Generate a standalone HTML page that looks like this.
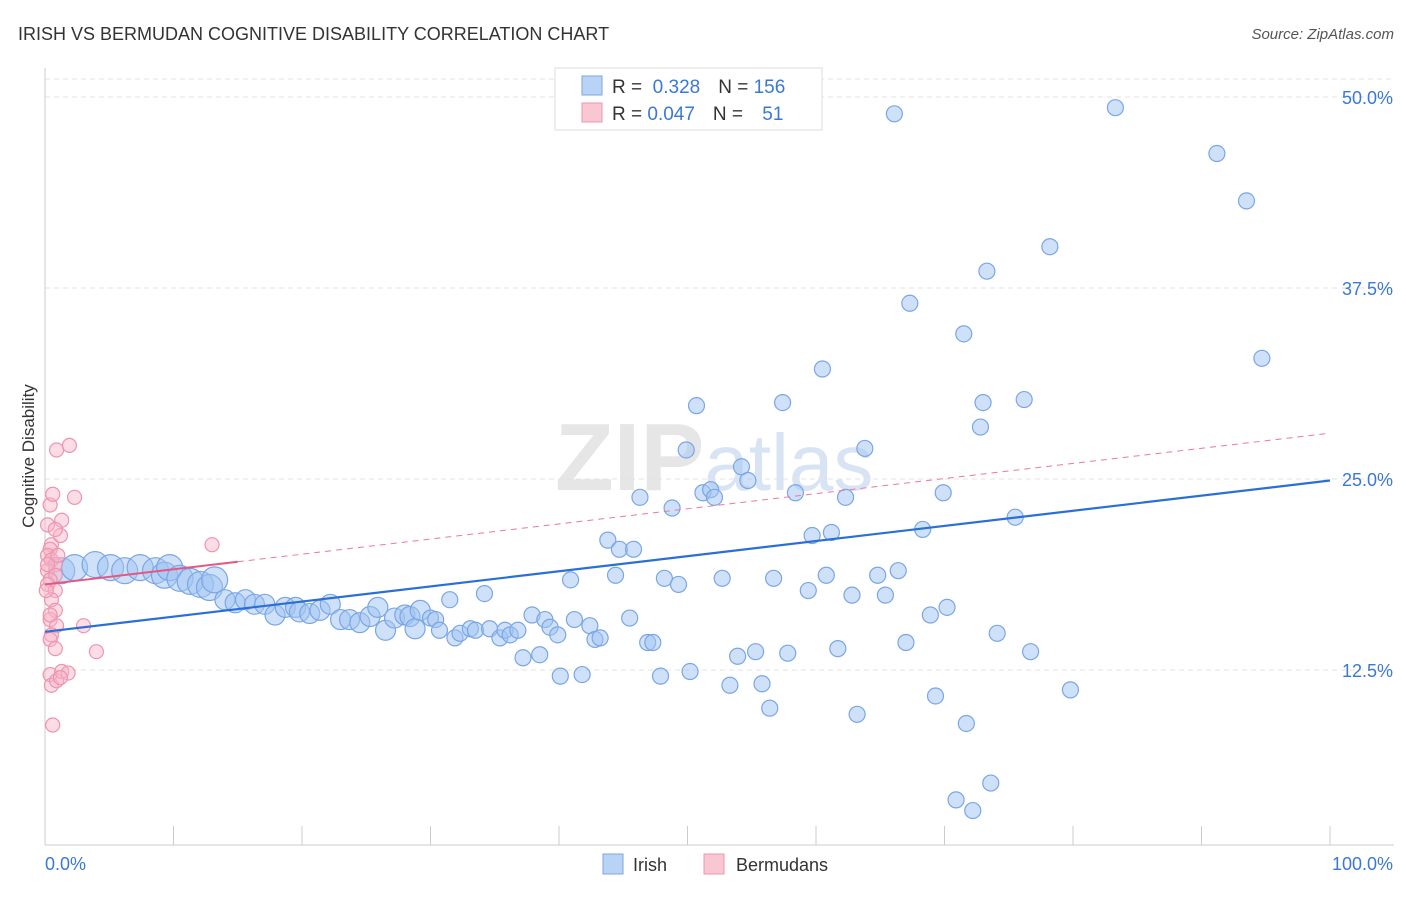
<!DOCTYPE html>
<html><head><meta charset="utf-8">
<style>
body{margin:0;background:#fff;font-family:"Liberation Sans",sans-serif;}
svg text{font-family:"Liberation Sans",sans-serif;}
</style></head>
<body>
<svg id="chart" width="1406" height="892" xmlns="http://www.w3.org/2000/svg">
<text x="18" y="40" font-size="18" fill="#333">IRISH VS BERMUDAN COGNITIVE DISABILITY CORRELATION CHART</text>
<text x="1394" y="39" font-size="15" fill="#555" font-style="italic" text-anchor="end">Source: ZipAtlas.com</text>
<text x="555" y="490" font-size="96" fill="#e6e6e6" font-family="Liberation Serif" font-weight="bold">ZIP<tspan fill="#d8e4f4" font-family="Liberation Sans" font-weight="normal" font-size="80">atlas</tspan></text>
<g id="grid"></g>
<g id="axes"></g>
<g id="marks"></g>
<text transform="translate(34,456) rotate(-90)" font-size="17" fill="#333" text-anchor="middle">Cognitive Disability</text>
<g>
<rect x="555" y="68" width="267" height="62" fill="#fff" stroke="#ddd"/>
<rect x="582" y="76" width="20" height="19" fill="#b9d3f5" stroke="#7aa6e6"/>
<rect x="582" y="103" width="20" height="19" fill="#f9c6d4" stroke="#ee94ae"/>
<text x="612" y="93" font-size="19" fill="#333">R = <tspan fill="#3a78d6">&#160;0.328</tspan><tspan dx="18" fill="#333">N = </tspan><tspan fill="#3a78d6">156</tspan></text>
<text x="612" y="120" font-size="19" fill="#333">R = <tspan fill="#3a78d6">0.047</tspan><tspan dx="18" fill="#333">N = </tspan><tspan fill="#3a78d6" dx="14">51</tspan></text>
</g>
<g>
<rect x="603" y="854" width="20" height="20" fill="#b9d3f5" stroke="#7aa6e6"/>
<text x="633" y="871" font-size="18" fill="#333">Irish</text>
<rect x="704" y="854" width="20" height="20" fill="#f9c6d4" stroke="#ee94ae"/>
<text x="736" y="871" font-size="18" fill="#333">Bermudans</text>
</g>
</svg>
<script>
const irishX=[1.3,2.3,3.9,5.1,6.2,7.4,8.6,9.3,9.7,10.5,11.3,12.1,12.8,13.2,14.0,14.8,15.6,16.3,17.1,17.9,18.7,19.5,19.8,20.6,21.4,22.2,23.0,23.7,24.5,25.3,25.9,26.5,27.2,28.0,28.4,28.8,29.2,30.0,30.4,30.7,31.5,31.9,32.3,33.1,33.5,34.2,34.6,35.4,35.8,36.2,36.8,37.2,37.9,38.5,38.9,39.3,39.9,40.1,40.9,41.2,41.8,42.4,42.8,43.2,43.8,44.4,44.7,45.5,45.8,46.3,46.9,47.3,47.9,48.2,48.8,49.3,49.9,50.2,50.7,51.2,51.8,52.1,52.7,53.3,53.9,54.2,54.7,55.3,55.8,56.4,56.7,57.4,57.8,58.4,59.4,59.7,60.5,60.8,61.2,61.7,62.3,62.8,63.2,63.8,64.8,65.4,66.1,66.4,67.0,67.3,68.3,68.9,69.3,69.9,70.2,70.9,71.5,71.7,72.2,72.8,73.0,73.3,73.6,74.1,75.5,76.2,76.7,78.2,79.8,83.3,91.2,93.5,94.7];
const irishY=[19.0,19.2,19.4,19.2,19.0,19.2,19.0,18.7,19.2,18.5,18.3,18.1,17.9,18.4,17.1,16.9,17.1,16.8,16.8,16.1,16.6,16.6,16.3,16.2,16.4,16.8,15.8,15.8,15.6,16.0,16.6,15.1,15.9,16.1,16.0,15.2,16.4,15.9,15.8,15.1,17.1,14.6,14.9,15.2,15.1,17.5,15.2,14.6,15.1,14.8,15.1,13.3,16.1,13.5,15.8,15.3,14.8,12.1,18.4,15.8,12.2,15.4,14.5,14.6,21.0,18.7,20.4,15.9,20.4,23.8,14.3,14.3,12.1,18.5,23.1,18.1,26.9,12.4,29.8,24.1,24.3,23.8,18.5,11.5,13.4,25.8,24.9,13.7,11.6,10.0,18.5,30.0,13.6,24.1,17.7,21.3,32.2,18.7,21.5,13.9,23.8,17.4,9.6,27.0,18.7,17.4,48.9,19.0,14.3,36.5,21.7,16.1,10.8,24.1,16.6,4.0,34.5,9.0,3.3,28.4,30.0,38.6,5.1,14.9,22.5,30.2,13.7,40.2,11.2,49.3,46.3,43.2,32.9];
const bermX=[0.4,0.5,0.4,0.2,0.5,0.8,0.2,0.8,0.4,0.2,0.8,0.5,0.8,0.4,0.9,0.5,0.4,0.8,0.4,0.5,0.9,1.3,1.8,0.9,1.9,0.6,1.3,2.3,1.2,3.0,4.0,13.0,0.2,0.8,0.4,0.6,1.2,0.1,0.2,1.0];
const bermY=[23.3,20.7,20.4,20.0,19.7,19.4,19.0,18.7,18.4,18.1,17.7,17.1,16.4,15.8,15.4,14.8,14.5,13.9,12.2,11.5,11.8,12.4,12.3,26.9,27.2,24.0,22.3,23.8,21.3,15.4,13.7,20.7,22.0,21.7,16.1,8.9,12.0,17.7,19.4,20.0];
const irishTrend=[15.0,24.9];
const bermTrend=[18.1,28.0];
const bermSolidEnd=15;
const yTicks=[12.5,25.0,37.5,50.0];
const xTickCount=10;

const NS="http://www.w3.org/2000/svg";
const X0=45,X1=1330,YB=861,PPY=15.28;
const sx=v=>X0+(X1-X0)*v/100;
const sy=v=>YB-v*PPY;
function mk(tag,attrs,parent){const e=document.createElementNS(NS,tag);for(const k in attrs)e.setAttribute(k,attrs[k]);parent.appendChild(e);return e;}
const grid=document.getElementById('grid'),axes=document.getElementById('axes'),marks=document.getElementById('marks');
yTicks.forEach(t=>{
  const l=mk('line',{x1:45,x2:1394,y1:sy(t),y2:sy(t),stroke:'#e3e3e3','stroke-dasharray':'5,4'},grid);
  
  
  const tx=mk('text',{x:1393,y:sy(t)+7,'font-size':18,fill:'#3a78d6','text-anchor':'end'},axes);
  tx.textContent=t.toFixed(1)+'%';
  
  
});
const topLine=mk('line',{x1:45,x2:1394,y1:79,y2:79,stroke:'#e3e3e3','stroke-dasharray':'5,4'},grid);


const ya=mk('line',{x1:45,x2:45,y1:68,y2:845,stroke:'#ccc'},axes);


const xa=mk('line',{x1:45,x2:1394,y1:845,y2:845,stroke:'#ccc'},axes);


for(let i=0;i<=xTickCount;i++){
  const t=mk('line',{x1:sx(i*10),x2:sx(i*10),y1:826,y2:845,stroke:'#ccc'},axes);
  
  
}
const xl0=mk('text',{x:45,y:870,'font-size':18,fill:'#3a78d6'},axes);xl0.textContent='0.0%';


const xl1=mk('text',{x:1393,y:870,'font-size':18,fill:'#3a78d6','text-anchor':'end'},axes);xl1.textContent='100.0%';



irishX.forEach((x,i)=>{
  const r=x<14?13:(x<30?10:8);
  const c=mk('circle',{cx:sx(x),cy:sy(irishY[i]),r:r,fill:'rgba(160,196,242,0.5)',stroke:'#7aa6e6','stroke-width':1.2},marks);
  
  
});
bermX.forEach((x,i)=>{
  const c=mk('circle',{cx:sx(x),cy:sy(bermY[i]),r:7,fill:'rgba(248,180,200,0.45)',stroke:'#ee94ae','stroke-width':1.2},marks);
  
  
});
const by=x=>bermTrend[0]+(bermTrend[1]-bermTrend[0])*x/100;
const bd=mk('line',{x1:sx(bermSolidEnd),y1:sy(by(bermSolidEnd)),x2:sx(100),y2:sy(by(100)),stroke:'#e87a9a','stroke-width':1,'stroke-dasharray':'6,5'},marks);


const bs=mk('line',{x1:sx(0),y1:sy(by(0)),x2:sx(bermSolidEnd),y2:sy(by(bermSolidEnd)),stroke:'#e5577f','stroke-width':2},marks);


const it=mk('line',{x1:sx(0),y1:sy(irishTrend[0]),x2:sx(100),y2:sy(irishTrend[1]),stroke:'#2a6fd6','stroke-width':2.2},marks);


</script>
</body></html>
